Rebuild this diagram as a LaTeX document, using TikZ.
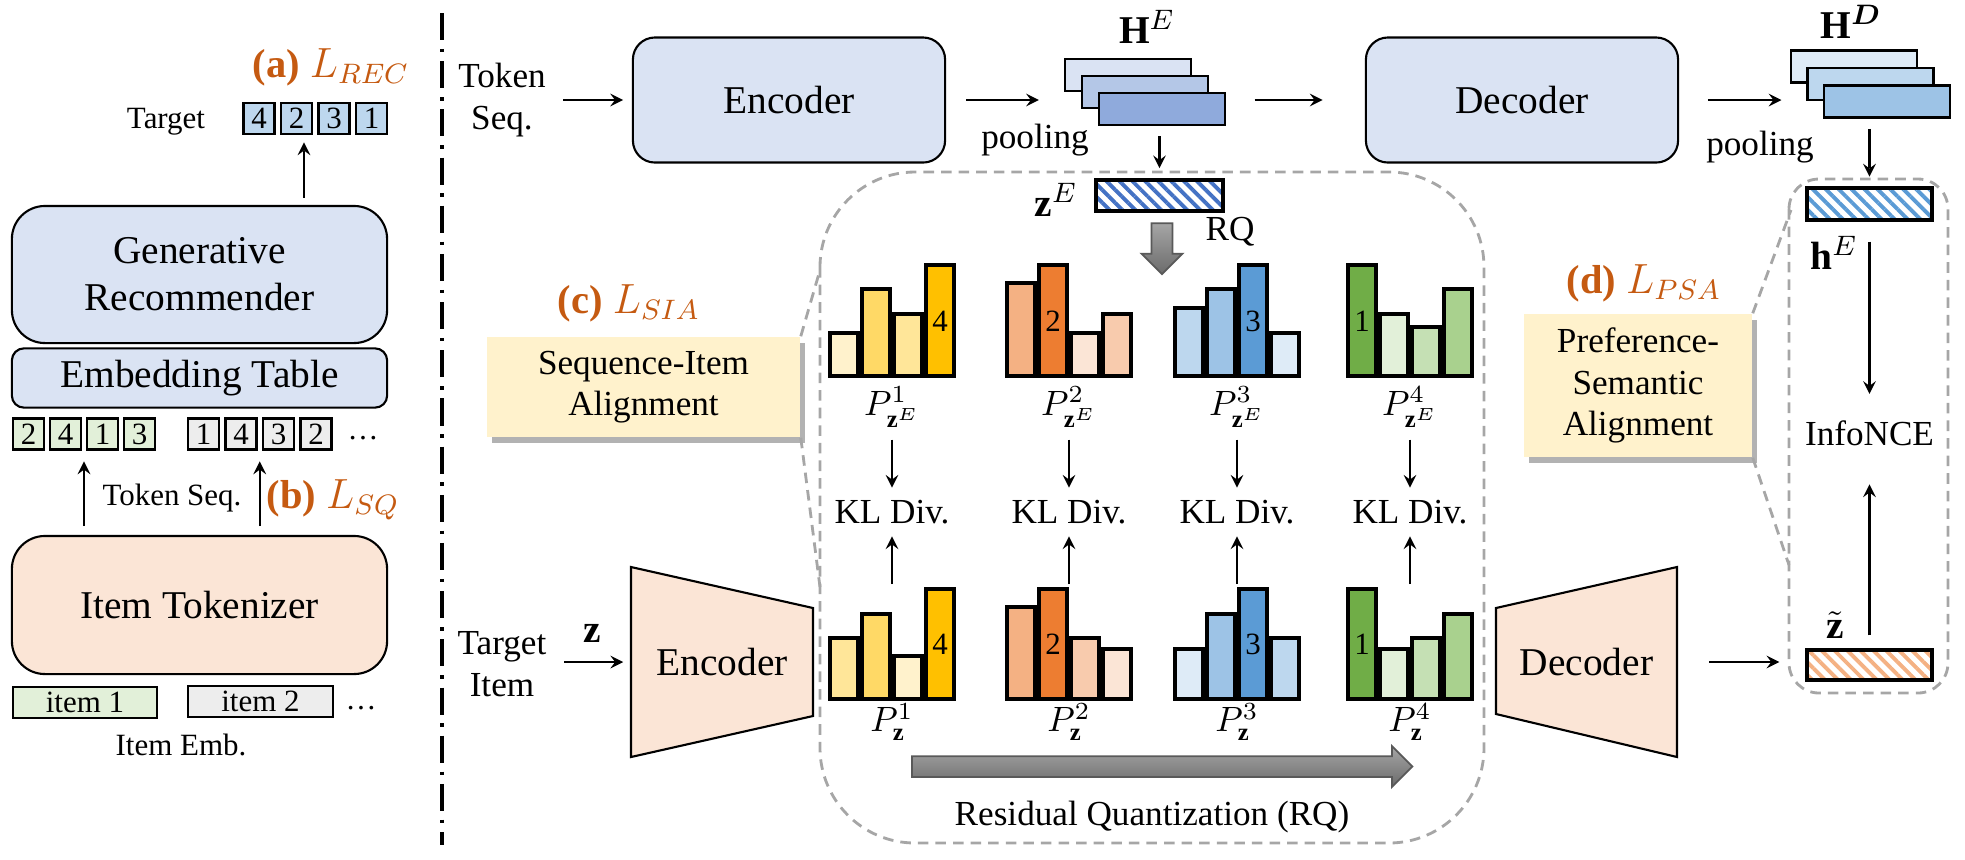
\documentclass[tikz,border=0pt]{standalone}
\usepackage{amsmath}
\usepackage{fontspec}
\setmainfont{Liberation Serif}
\usepackage{tikz}
\usepackage{xcolor}
\usetikzlibrary{shapes,arrows,positioning,shadows,patterns.meta,calc}
\definecolor{boxblue}{HTML}{DAE3F3}
\definecolor{boxpeach}{HTML}{FBE5D6}
\definecolor{tokgreen}{HTML}{E2F0D9}
\definecolor{tokgray}{HTML}{EDEDED}
\definecolor{tokblue}{HTML}{BDD7EE}
\definecolor{lossorange}{HTML}{C55A11}
\definecolor{alignyellow}{HTML}{FFF2CC}
\definecolor{regiongray}{HTML}{A6A6A6}
\definecolor{yA}{HTML}{FFC000}
\definecolor{yB}{HTML}{FFD966}
\definecolor{yC}{HTML}{FFE699}
\definecolor{yD}{HTML}{FFF2CC}
\definecolor{oA}{HTML}{ED7D31}
\definecolor{oB}{HTML}{F4B183}
\definecolor{oC}{HTML}{F8CBAD}
\definecolor{oD}{HTML}{FBE5D6}
\definecolor{bA}{HTML}{5B9BD5}
\definecolor{bB}{HTML}{9DC3E6}
\definecolor{bC}{HTML}{BDD7EE}
\definecolor{bD}{HTML}{DEEBF7}
\definecolor{gA}{HTML}{70AD47}
\definecolor{gB}{HTML}{A9D18E}
\definecolor{gC}{HTML}{C5E0B4}
\definecolor{gD}{HTML}{E2F0D9}
\definecolor{heA}{HTML}{DAE3F3}
\definecolor{heB}{HTML}{B4C7E7}
\definecolor{heC}{HTML}{8FAADC}
\definecolor{hatchdark}{HTML}{4472C4}
\definecolor{hatchlight}{HTML}{5B9BD5}
\definecolor{hatchpeach}{HTML}{F4B183}
\newcommand{\sizeBox}{\fontsize{11.2}{13.4}\selectfont}
\newcommand{\sizeLbl}{\fontsize{10}{11.8}\selectfont}
\newcommand{\sizeSm}{\fontsize{8.8}{10}\selectfont}
\newcommand{\sizeLoss}{\fontsize{11.5}{13}\selectfont}
\tikzstyle{arrow} = [
    semithick,
    -stealth,
    draw=black
]
\tikzstyle{genbox} = [
    rectangle,
    rounded corners=3.3mm,
    minimum width=3.75cm,
    minimum height=1.37cm,
    align=center,
    draw=black,
    semithick,
    fill=boxblue,
    font=\sizeBox
]
\tikzstyle{tokbox} = [genbox, fill=boxpeach, minimum height=1.38cm]
\tikzstyle{embbox} = [genbox, rounded corners=1.2mm, minimum height=0.48cm]
\tikzstyle{encbox} = [genbox, rounded corners=2.2mm, minimum width=3.12cm, minimum height=1.25cm]
\tikzstyle{boxtext} = [font=\sizeBox, inner sep=0pt]
\tikzstyle{trap} = [draw=black, semithick, fill=boxpeach]
\tikzstyle{token} = [
    rectangle,
    draw=black,
    line width=0.8pt,
    minimum width=0.31cm,
    minimum height=0.31cm,
    inner sep=0pt,
    font=\sizeSm
]
\tikzstyle{itembox} = [token, minimum height=0.31cm]
\tikzstyle{smalltext} = [font=\sizeSm]
\tikzstyle{lbl} = [font=\sizeLbl]
\tikzstyle{plbl} = [font=\sizeLbl, inner sep=0.5pt]
\tikzstyle{sym} = [font=\sizeBox, inner sep=1pt]
\tikzstyle{loss} = [font=\sizeLoss, text=lossorange]
\tikzstyle{alignbox} = [
    rectangle,
    fill=alignyellow,
    align=center,
    font=\sizeLbl,
    minimum width=3.13cm,
    minimum height=1.0cm,
    drop shadow={shadow xshift=1.4pt, shadow yshift=-1.6pt, fill=black, opacity=0.3}
]
\tikzstyle{stack} = [
    rectangle,
    draw=black,
    line width=0.8pt,
    minimum width=1.26cm,
    minimum height=0.32cm,
    inner sep=0pt
]
\tikzstyle{hatchbar} = [
    rectangle,
    draw=black,
    line width=0.9pt,
    minimum width=1.27cm,
    minimum height=0.31cm,
    inner sep=0pt,
    pattern={Lines[angle=-45, distance=2.6pt, line width=1.1pt]}
]
\tikzstyle{bar} = [draw=black, line width=0.9pt]
\tikzstyle{barnum} = [font=\sizeSm, inner sep=0pt]
\tikzstyle{region} = [draw=regiongray, line width=0.8pt, dash pattern=on 3pt off 2pt]
\tikzstyle{sepline} = [line width=1.1pt, dash pattern=on 7.7pt off 2.5pt on 1pt off 2.5pt]
\tikzstyle{bigarrow} = [
    single arrow,
    inner sep=0.095cm,
    single arrow head extend=0.1cm,
    draw=black!65,
    line width=0.5pt,
    top color=black!35,
    bottom color=black!58
]
% one histogram: x0, baseline, height/colour list, index of the top bar, its number
\newcommand{\bargroup}[5]{%
    \foreach \h/\c [count=\k from 0] in {#3}
        {\draw[bar, fill=\c] ({#1+32*\k},#2) rectangle ++(28,-\h);}
    \node[barnum] at ({#1+32*(#4-1)+14},{#2-55}) {#5};
}
\begin{document}
\begin{tikzpicture}[x=0.01cm, y=-0.01cm]
    \useasboundingbox (0,0) rectangle (1965,859);
    % left panel
    \node[loss] (lrec) at (331,67) {\textbf{(a)} $L_{REC}$};
    \node[smalltext] (target) at (166,122) {Target};
    \foreach \d [count=\i] in {4,2,3,1}
        \node[token, fill=tokblue] (t\i) at ({221.5+37.5*\i},118.5) {\d};
    \node[genbox] (genrec) at (199.5,274.5) {Generative\\Recommender};
    \node[embbox] (embtab) at (199.5,378) {Embedding Table};
    \foreach \d [count=\i] in {2,4,1,3}
        \node[token, fill=tokgreen] (g\i) at ({-8.5+37*\i},434) {\d};
    \foreach \d [count=\i] in {1,4,3,2}
        \node[token, fill=tokgray] (s\i) at ({166+37.5*\i},434) {\d};
    \node[smalltext] (tokdots) at (363,438) {\dots};
    \node[smalltext] (tokseqL) at (172,498) {Token Seq.};
    \node[loss] (lsq) at (333,500) {\textbf{(b)} $L_{SQ}$};
    \node[tokbox] (itok) at (199.5,605) {Item Tokenizer};
    \node[itembox, fill=tokgreen, minimum width=1.44cm] (item1) at (85,702.5) {item 1};
    \node[itembox, fill=tokgray, minimum width=1.45cm] (item2) at (260.5,701.5) {item 2};
    \node[smalltext] (itemdots) at (361,708) {\dots};
    \node[smalltext] (itememb) at (181,745) {Item Emb.};
    \coordinate (gmid) at ($(g2.east)!0.5!(g3.west)$);
    \coordinate (smid) at ($(s2.east)!0.5!(s3.west)$);
    \coordinate (tmid) at ($(t2.center)!0.2!(t3.center)$);
    \draw[arrow, shorten <=2.5pt, shorten >=3pt] (itok.north -| gmid) -- (gmid |- g2.south);
    \draw[arrow, shorten <=2.5pt, shorten >=3pt] (itok.north -| smid) -- (smid |- s2.south);
    \draw[arrow, shorten <=2pt, shorten >=2pt] (genrec.north -| tmid) -- (tmid |- t2.south);
    \draw[sepline] (442,13) -- (442,845);

    % sequence encoder and decoder
    \node[lbl, align=center] (tokseq) at (502,100) {Token\\Seq.};
    \node[encbox] (seqenc) at (789,100) {Encoder};
    \draw[arrow, shorten <=1.5pt, shorten >=2.5pt] (tokseq.east) -- (seqenc.west);
    \foreach \c [count=\i from 0] in {heA,heB,heC}
        \node[stack, fill=\c] (he\i) at ({1128+17*\i},{75+17*\i}) {};
    \node[sym] (helbl) at (1147,27) {$\mathbf{H}^E$};
    \draw[arrow, shorten <=5.7pt, shorten >=7pt] (seqenc.east) -- (seqenc.east -| he0.west);
    \node[lbl] (pool1) at (1035,140) {pooling};
    \node[encbox] (seqdec) at (1522,100) {Decoder};
    \draw[arrow, shorten <=8pt, shorten >=12pt] (seqdec.west -| he2.east) -- (seqdec.west);
    \foreach \c [count=\i from 0] in {bD,bC,bB}
        \node[stack, fill=\c] (hd\i) at ({1854+16.5*\i},{66.5+17.5*\i}) {};
    \node[sym] (hdlbl) at (1851,22) {$\mathbf{H}^{\boldsymbol{D}}$};
    \draw[arrow, shorten <=8.2pt, shorten >=2.3pt] (seqdec.east) -- (seqdec.east -| hd0.west);
    \node[lbl] (pool2) at (1760,147) {pooling};

    % quantization region
    \draw[region, rounded corners=0.95cm] (820,172) rectangle (1484,843);
    \draw[region, rounded corners=0.3cm] (1789,179) rectangle (1948,693);
    \node[hatchbar, pattern color=hatchdark] (ze) at (1159.5,195.5) {};
    \node[sym] (zelbl) at (1056,200) {$\mathbf{z}^E$};
    \draw[arrow, shorten <=2.8pt, shorten >=2.8pt] (ze.north |- he2.south) -- (ze.north);
    \node[bigarrow, minimum height=0.51cm, rotate=-90] (rqdown) at (1162,243.5) {};
    \node[lbl] (rqlbl) at (1230,232) {RQ};
    \node[loss] (lsia) at (629,303) {\textbf{(c)} $L_{SIA}$};
    \node[alignbox] (sia) at (643.5,387) {Sequence-Item\\Alignment};
    \coordinate (siatop) at (820,270);
    \coordinate (siabot) at (820,587);
    \draw[region] (sia.north east) -- (siatop);
    \draw[region] (sia.south east) -- (siabot);

    % code distributions
    \bargroup{830}{376}{43/yD,87/yB,62/yC,111/yA}{4}{4}
    \bargroup{1007}{376}{93/oB,111/oA,43/oD,62/oC}{2}{2}
    \bargroup{1175}{376}{68/bC,87/bB,111/bA,43/bD}{3}{3}
    \bargroup{1348}{376}{111/gA,62/gD,49/gC,87/gB}{1}{1}
    \bargroup{830}{699}{61/yC,85/yB,43/yD,110/yA}{4}{4}
    \bargroup{1007}{699}{92/oB,110/oA,61/oC,50/oD}{2}{2}
    \bargroup{1175}{699}{50/bD,85/bB,110/bA,61/bC}{3}{3}
    \bargroup{1348}{699}{110/gA,50/gD,61/gC,85/gB}{1}{1}
    \foreach \x [count=\i] in {892,1069,1237,1410} {
        \node[plbl] (pt\i) at (\x,407) {$P^{\i}_{\mathbf{z}^E}$};
        \node[lbl] (kl\i) at (\x,512) {KL Div.};
        \node[plbl] (pb\i) at (\x,722) {$P^{\i}_{\mathbf{z}}$};
        \coordinate (gb\i) at (\x,584);
        \draw[arrow, shorten <=2.8pt] (pt\i) -- (kl\i);
        \draw[arrow] (gb\i) -- (kl\i);
    }
    \node[bigarrow, minimum height=5cm] (rqarrow) at (1157,766.5) {};
    \node[lbl] (rqtext) at (1152,817) {Residual Quantization (RQ)};

    % item encoder and decoder
    \node[lbl, align=center] (tgtitem) at (502,664) {Target\\Item};
    \filldraw[trap] (631,567) -- (813,608) -- (813,716) -- (631,757) -- cycle;
    \node[boxtext, minimum width=1.82cm, minimum height=1.9cm] (itemenc) at (722,662) {Encoder};
    \draw[arrow, shorten <=1.5pt, shorten >=2pt] (tgtitem.east |- itemenc.west) -- (itemenc.west);
    \node[sym] (zin) at (592,633) {$\mathbf{z}$};
    \filldraw[trap] (1496,608) -- (1677,567) -- (1677,757) -- (1496,714) -- cycle;
    \node[boxtext, minimum width=1.81cm, minimum height=1.9cm] (itemdec) at (1586.5,662) {Decoder};

    % preference-semantic alignment
    \node[hatchbar, pattern color=hatchlight, minimum width=1.25cm, minimum height=0.32cm] (hebar) at (1869.5,204) {};
    \node[sym] (helbl2) at (1834,253) {$\mathbf{h}^E$};
    \node[lbl] (infonce) at (1869.5,433) {InfoNCE};
    \node[hatchbar, pattern color=hatchpeach, minimum width=1.25cm, minimum height=0.30cm] (ztbar) at (1869.5,665) {};
    \node[sym] (ztlbl) at (1835,625) {$\tilde{\mathbf{z}}$};
    \draw[arrow, shorten <=2.8pt, shorten >=2.8pt] (hebar.north |- hd2.south) -- (hebar.north);
    \draw[arrow, shorten <=5.7pt, shorten >=4pt] (hebar) -- (infonce);
    \draw[arrow, shorten <=3.7pt, shorten >=7.5pt] (ztbar) -- (infonce);
    \draw[arrow, shorten <=9pt, shorten >=7.4pt] (itemdec.east) -- (itemdec.east -| ztbar.west);
    \node[loss] (lpsa) at (1644,283) {\textbf{(d)} $L_{PSA}$};
    \node[alignbox, minimum width=2.28cm, minimum height=1.43cm] (psa) at (1638,385.5) {Preference-\\Semantic\\Alignment};
    \coordinate (psatop) at (1791,210);
    \coordinate (psabot) at (1789,565);
    \draw[region] (psa.north east) -- (psatop);
    \draw[region] (psa.south east) -- (psabot);
\end{tikzpicture}
\end{document}
